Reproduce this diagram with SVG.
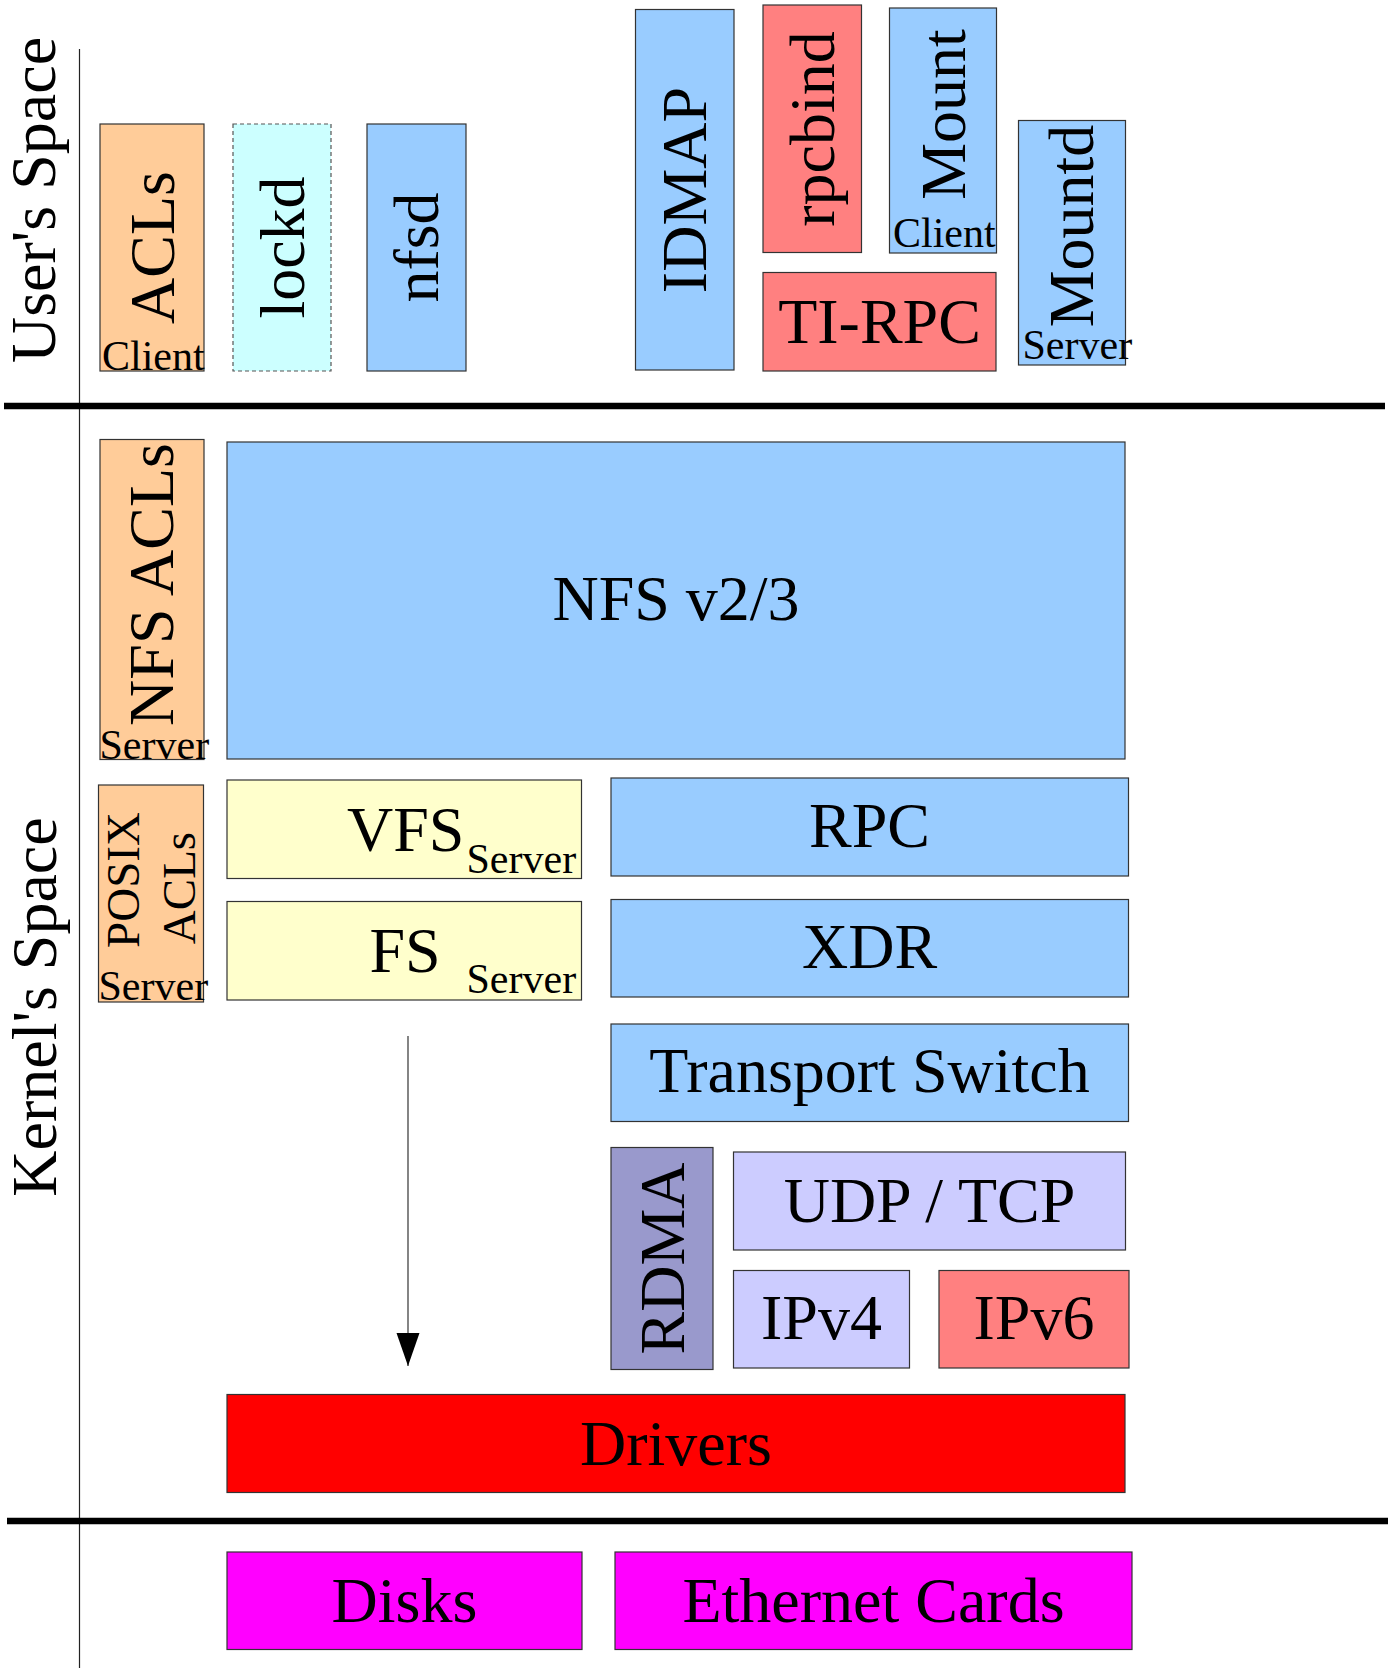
<svg xmlns="http://www.w3.org/2000/svg" width="1396" height="1668" viewBox="0 0 1396 1668">
  <style>
    .box { stroke: #333; stroke-width: 1.2; }
    .dash { stroke: #555; stroke-width: 1.2; stroke-dasharray: 4 3; }
    .t { font-family: "Liberation Serif", "Times New Roman", serif; fill: #000; }
    .big { font-size: 64px; }
    .mid { font-size: 47px; }
    .sm { font-size: 42px; }
    .c { text-anchor: middle; }
    .orange { fill: #FFCC99; }
    .cyan { fill: #CCFFFF; }
    .blue { fill: #99CCFF; }
    .salmon { fill: #FF8080; }
    .yellow { fill: #FFFFCC; }
    .violet { fill: #9999CC; }
    .lilac { fill: #CCCCFF; }
    .red { fill: #FF0000; }
    .magenta { fill: #FF00FF; }
    .rule { stroke: #000; stroke-width: 6.5; }
    .axis { stroke: #222; stroke-width: 1.2; }
    .wire { stroke: #333; stroke-width: 1.2; fill: none; }
  </style>
  <defs>
    <!-- filled triangular head, drawn along +x so orient="auto" follows the line -->
    <marker id="arrowhead" markerUnits="userSpaceOnUse" markerWidth="34" markerHeight="24" refX="33" refY="12" orient="auto" viewBox="0 0 34 24">
      <path d="M0,0.5 L33,12 L0,23.5 Z" fill="#000"/>
    </marker>
  </defs>

  <!-- separators -->
  <g id="separators">
    <line class="axis" x1="79.5" y1="49" x2="79.5" y2="1668"/>
    <line class="rule" x1="4" y1="406" x2="1385" y2="406"/>
    <line class="rule" x1="7" y1="1521" x2="1388" y2="1521"/>
  </g>

  <!-- space labels -->
  <g id="label-user">
    <text class="t big c" transform="translate(55,200) rotate(-90)">User's Space</text>
  </g>
  <g id="label-kernel">
    <text class="t big c" transform="translate(55.5,1007) rotate(-90)">Kernel's Space</text>
  </g>

  <!-- user space -->
  <g id="acls-client">
    <rect class="box orange" x="100" y="124" width="104" height="247"/>
    <text class="t big c" transform="translate(173.5,247.5) rotate(-90)">ACLs</text>
    <text class="t sm" x="102" y="370">Client</text>
  </g>
  <g id="lockd">
    <rect class="dash cyan" x="233" y="124" width="98" height="247"/>
    <text class="t big c" transform="translate(303.5,247.5) rotate(-90)">lockd</text>
  </g>
  <g id="nfsd">
    <rect class="box blue" x="367" y="124" width="99" height="247"/>
    <text class="t big c" transform="translate(438,247.5) rotate(-90)">nfsd</text>
  </g>
  <g id="idmap">
    <rect class="box blue" x="635.5" y="9.5" width="98.5" height="360.5"/>
    <text class="t big c" transform="translate(706,190) rotate(-90)">IDMAP</text>
  </g>
  <g id="rpcbind">
    <rect class="box salmon" x="763" y="5" width="98.5" height="247.5"/>
    <text class="t big c" transform="translate(834,129) rotate(-90)">rpcbind</text>
  </g>
  <g id="mount-client">
    <rect class="box blue" x="889.5" y="8" width="107" height="245"/>
    <text class="t big c" transform="translate(964.5,114.5) rotate(-90)">Mount</text>
    <text class="t sm" x="893" y="246.5">Client</text>
  </g>
  <g id="ti-rpc">
    <rect class="box salmon" x="763" y="272.5" width="233" height="98.5"/>
    <text class="t big c" x="879.5" y="342.5">TI-RPC</text>
  </g>
  <g id="mountd-server">
    <rect class="box blue" x="1018.5" y="120.5" width="107" height="244.5"/>
    <text class="t big c" transform="translate(1093,226) rotate(-90)">Mountd</text>
    <text class="t sm" x="1022.5" y="358.5">Server</text>
  </g>

  <!-- kernel space -->
  <g id="nfs-acls-server">
    <rect class="box orange" x="100" y="439.5" width="104" height="320"/>
    <text class="t big c" transform="translate(173,584.5) rotate(-90)">NFS ACLs</text>
    <text class="t sm" x="99.5" y="758.5">Server</text>
  </g>
  <g id="nfs-v23">
    <rect class="box blue" x="227" y="442" width="898" height="317"/>
    <text class="t big c" x="676" y="620">NFS v2/3</text>
  </g>
  <g id="posix-acls-server">
    <rect class="box orange" x="98.5" y="785" width="105" height="217"/>
    <text class="t mid c" transform="translate(138.5,880) rotate(-90)">POSIX</text>
    <text class="t mid c" transform="translate(195,888) rotate(-90)">ACLs</text>
    <text class="t sm" x="98.5" y="1000">Server</text>
  </g>
  <g id="vfs-server">
    <rect class="box yellow" x="227" y="780" width="354.5" height="98.5"/>
    <text class="t big" x="347" y="850.5">VFS</text>
    <text class="t sm" x="466.5" y="873">Server</text>
  </g>
  <g id="fs-server">
    <rect class="box yellow" x="227" y="901.5" width="354.5" height="98.5"/>
    <text class="t big" x="369.5" y="971.5">FS</text>
    <text class="t sm" x="466.5" y="993">Server</text>
  </g>
  <g id="rpc">
    <rect class="box blue" x="611" y="778" width="517.5" height="98"/>
    <text class="t big c" x="869.5" y="847">RPC</text>
  </g>
  <g id="xdr">
    <rect class="box blue" x="611" y="899.5" width="517.5" height="97.5"/>
    <text class="t big c" x="869.5" y="967.5">XDR</text>
  </g>
  <g id="transport-switch">
    <rect class="box blue" x="611" y="1024" width="517.5" height="97.5"/>
    <text class="t big c" x="869.5" y="1092">Transport Switch</text>
  </g>
  <g id="rdma">
    <rect class="box violet" x="611" y="1147.5" width="102" height="222"/>
    <text class="t big c" transform="translate(683.5,1258.5) rotate(-90)">RDMA</text>
  </g>
  <g id="udp-tcp">
    <rect class="box lilac" x="733.5" y="1152" width="392" height="98"/>
    <text class="t big c" x="929.5" y="1222">UDP / TCP</text>
  </g>
  <g id="ipv4">
    <rect class="box lilac" x="733.5" y="1270.5" width="176" height="97.5"/>
    <text class="t big c" x="821.5" y="1339">IPv4</text>
  </g>
  <g id="ipv6">
    <rect class="box salmon" x="939" y="1270.5" width="190" height="97.5"/>
    <text class="t big c" x="1034" y="1339">IPv6</text>
  </g>
  <g id="drivers">
    <rect class="box red" x="227" y="1394.5" width="898" height="98"/>
    <text class="t big c" x="676" y="1464.5">Drivers</text>
  </g>

  <!-- hardware -->
  <g id="disks">
    <rect class="box magenta" x="227" y="1552" width="355" height="97.5"/>
    <text class="t big c" x="404.5" y="1621.5">Disks</text>
  </g>
  <g id="ethernet-cards">
    <rect class="box magenta" x="615" y="1552" width="517" height="97.5"/>
    <text class="t big c" x="873.5" y="1621.5">Ethernet Cards</text>
  </g>

  <!-- connectors -->
  <g id="connectors">
    <line class="wire" x1="408" y1="1036" x2="408" y2="1366" marker-end="url(#arrowhead)"/>
  </g>
</svg>
